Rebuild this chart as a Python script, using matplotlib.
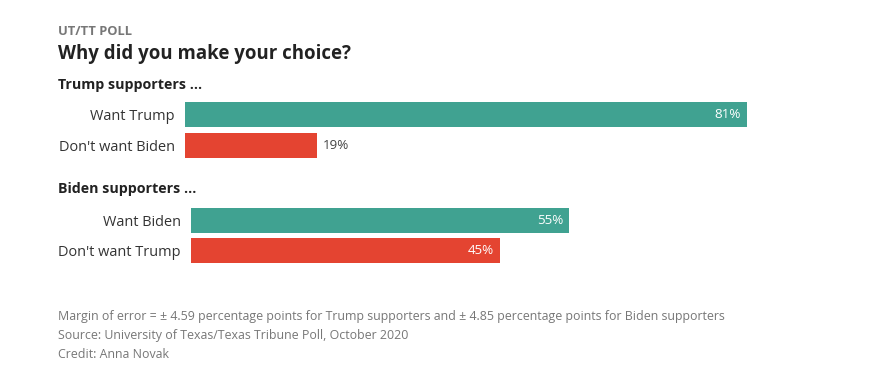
import matplotlib.pyplot as plt

plt.rcParams['font.family'] = ['Open Sans', 'DejaVu Sans']

W, H = 880, 377

# data
trump_labels = ["Want Trump", "Don't want Biden"]
trump_values = [81, 19]
biden_labels = ["Want Biden", "Don't want Trump"]
biden_values = [55, 45]

TEAL = '#40a291'
RED = '#e44431'
DARK = '#222222'
GRAY = '#777777'

fig = plt.figure(figsize=(W / 100, H / 100), dpi=100)
fig.patch.set_facecolor('white')


def px_text(x, y, s, **kw):
    fig.text(x / W, 1 - y / H, s, va='baseline', **kw)


def bar_group(left, top, bottom, labels, values):
    # axes spanning 0-100 horizontally, pixel box given
    ax = fig.add_axes([left / W, 1 - bottom / H, (878.5 - left) / W, (bottom - top) / H])
    ys = list(range(len(labels)))
    bars = ax.barh(ys, values, height=0.82, color=[TEAL, RED])
    ax.set_xlim(0, 100)
    ax.set_ylim(len(labels) - 0.5, -0.5)
    ax.set_yticks(ys)
    ax.set_yticklabels(labels, fontsize=10.45, color='#333333')
    ax.tick_params(axis='y', length=0, pad=7.5)
    ax.set_xticks([])
    for s in ax.spines.values():
        s.set_visible(False)
    for b, v in zip(bars, values):
        cy = b.get_y() + b.get_height() / 2
        if v >= 30:
            ax.text(v - 0.9, cy, f"{v}%", ha='right', va='center',
                    color='white', fontsize=9.6)
        else:
            ax.text(v + 0.8, cy, f"{v}%", ha='left', va='center',
                    color='#444444', fontsize=9.6)
    return ax


bar_group(185, 99.5, 160.5, trump_labels, trump_values)
bar_group(191, 205.5, 265.5, biden_labels, biden_values)

px_text(58, 35, "UT/TT POLL", fontsize=9.3, fontweight='bold', color=GRAY)
px_text(58, 59, "Why did you make your choice?", fontsize=13.4, fontweight='bold', color=DARK)
px_text(58, 89, "Trump supporters ...", fontsize=10.3, fontweight='bold', color=DARK)
px_text(58, 193, "Biden supporters ...", fontsize=10.3, fontweight='bold', color=DARK)

foot = [
    "Margin of error = \u00b1 4.59 percentage points for Trump supporters and \u00b1 4.85 percentage points for Biden supporters",
    "Source: University of Texas/Texas Tribune Poll, October 2020",
    "Credit: Anna Novak",
]
for i, line in enumerate(foot):
    px_text(58, 320 + 19 * i, line, fontsize=8.95, color=GRAY)

fig.savefig('out.png', dpi=100, facecolor='white')
